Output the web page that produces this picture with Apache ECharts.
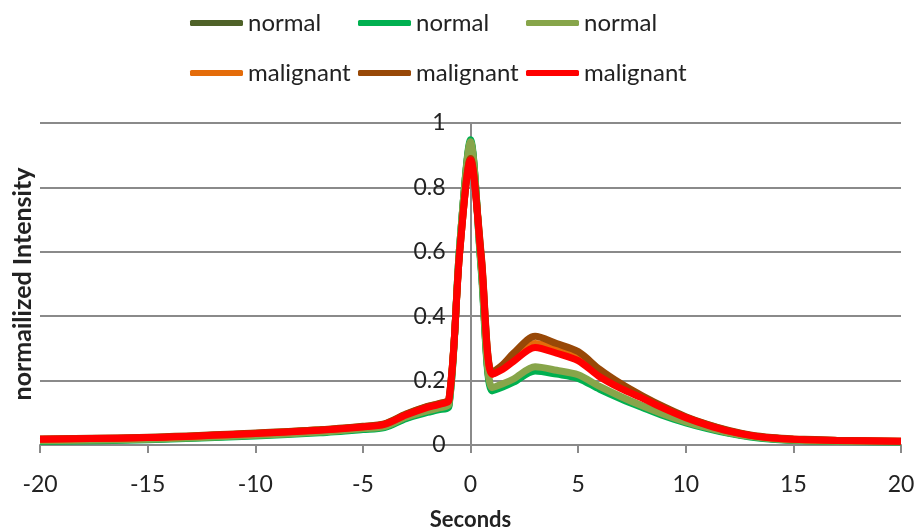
<!DOCTYPE html>
<html>
<head>
<meta charset="utf-8">
<script src="https://cdn.jsdelivr.net/npm/echarts@6/dist/echarts.min.js"></script>
<style>
  html, body { margin: 0; padding: 0; background: #fff; }
  #main { width: 917px; height: 532px; }
</style>
</head>
<body>
<div id="main"></div>
<script>
// time axis (seconds)
var seconds = [-20, -15, -10, -7, -5, -4, -3, -2, -1.5, -1, -0.5, 0, 0.5, 1, 1.5, 2, 3, 4, 5, 6, 7, 8, 9, 10, 11, 12, 13, 14, 15, 17, 20];

var normal1 = [0.013, 0.018, 0.03, 0.04, 0.05, 0.056, 0.084, 0.104, 0.112, 0.125, 0.62, 0.94, 0.55, 0.175, 0.185, 0.2, 0.232, 0.223, 0.212, 0.178, 0.148, 0.12, 0.094, 0.072, 0.054, 0.038, 0.027, 0.019, 0.015, 0.012, 0.01];
var normal2 = [0.011, 0.016, 0.028, 0.038, 0.048, 0.054, 0.082, 0.101, 0.109, 0.12, 0.62, 0.948, 0.54, 0.168, 0.18, 0.195, 0.23, 0.22, 0.207, 0.173, 0.143, 0.116, 0.09, 0.069, 0.051, 0.036, 0.025, 0.018, 0.014, 0.011, 0.009];
var normal3 = [0.013, 0.018, 0.03, 0.04, 0.051, 0.057, 0.086, 0.106, 0.114, 0.128, 0.62, 0.942, 0.55, 0.178, 0.19, 0.205, 0.243, 0.232, 0.218, 0.182, 0.15, 0.121, 0.095, 0.072, 0.054, 0.038, 0.027, 0.019, 0.015, 0.012, 0.01];
var malignant1 = [0.018, 0.023, 0.036, 0.047, 0.057, 0.065, 0.095, 0.119, 0.127, 0.142, 0.6, 0.89, 0.585, 0.22, 0.24, 0.27, 0.315, 0.298, 0.274, 0.222, 0.18, 0.148, 0.115, 0.086, 0.063, 0.044, 0.03, 0.022, 0.018, 0.014, 0.012];
var malignant2 = [0.019, 0.024, 0.037, 0.047, 0.058, 0.066, 0.096, 0.12, 0.128, 0.143, 0.6, 0.89, 0.59, 0.225, 0.25, 0.285, 0.338, 0.315, 0.29, 0.235, 0.19, 0.152, 0.118, 0.088, 0.064, 0.045, 0.031, 0.023, 0.019, 0.015, 0.012];
var malignant3 = [0.018, 0.023, 0.036, 0.046, 0.056, 0.064, 0.093, 0.117, 0.125, 0.14, 0.6, 0.885, 0.58, 0.22, 0.235, 0.26, 0.303, 0.285, 0.262, 0.212, 0.175, 0.145, 0.113, 0.085, 0.062, 0.043, 0.03, 0.022, 0.018, 0.014, 0.012];

var seriesKeys = ["normal 1", "normal 2", "normal 3", "malignant 1", "malignant 2", "malignant 3"];
var seriesLabels = ["normal", "normal", "normal", "malignant", "malignant", "malignant"];
var seriesValues = [normal1, normal2, normal3, malignant1, malignant2, malignant3];
var seriesColors = ["#4F6228", "#00B050", "#87A54A", "#E46C0A", "#984807", "#FF0000"];

var font = "Lato, 'Open Sans', sans-serif";

var myChart = echarts.init(document.getElementById("main"));

function legendLabel(name) {
  return seriesLabels[seriesKeys.indexOf(name)];
}

var legendBase = {
  left: 190,
  orient: "horizontal",
  padding: 0,
  itemGap: 0,
  itemWidth: 53,
  itemHeight: 6,
  icon: "roundRect",
  formatter: legendLabel,
  textStyle: { fontFamily: font, fontSize: 24, color: "#222", width: 110, lineHeight: 28 },
  selectedMode: false
};

var series = seriesKeys.map(function (key, i) {
  return {
    name: key,
    type: "line",
    smooth: 0.3,
    showSymbol: false,
    data: seconds.map(function (t, j) { return [t, seriesValues[i][j]]; }),
    lineStyle: { color: seriesColors[i], width: 7 },
    itemStyle: { color: seriesColors[i] }
  };
});

// plot area; the value axis is drawn at x = 0 (middle of the grid)
var gridLeft = 40, gridRight = 16, chartWidth = 917;
var zeroOffset = -(chartWidth - gridLeft - gridRight) / 2;

var option = {
  animation: false,
  legend: [
    Object.assign({}, legendBase, { top: 9, data: seriesKeys.slice(0, 3) }),
    Object.assign({}, legendBase, { top: 59, data: seriesKeys.slice(3) })
  ],
  grid: { left: gridLeft, right: gridRight, top: 123, bottom: 87, outerBoundsMode: "none", containLabel: false },
  xAxis: {
    type: "value",
    min: -20,
    max: 20,
    interval: 5,
    name: "Seconds",
    nameLocation: "middle",
    nameGap: 63,
    nameTextStyle: { fontFamily: font, fontSize: 22, fontWeight: "bold", color: "#222", lineHeight: 24 },
    axisLine: { lineStyle: { color: "#8a8a8a", width: 2 } },
    axisTick: { show: true, length: 8, lineStyle: { color: "#8a8a8a", width: 2 } },
    axisLabel: { fontFamily: font, fontSize: 23, color: "#222", margin: 28 },
    splitLine: { show: false }
  },
  yAxis: [
    {
      type: "value",
      position: "left",
      offset: zeroOffset,
      min: 0,
      max: 1,
      interval: 0.2,
      axisLine: { show: true, onZero: false, lineStyle: { color: "#8a8a8a", width: 2 } },
      axisTick: { show: false },
      axisLabel: { fontFamily: font, fontSize: 23, color: "#222", margin: 25 },
      splitLine: { lineStyle: { color: "#8a8a8a", width: 2 } }
    },
    {
      type: "value",
      position: "left",
      min: 0,
      max: 1,
      name: "normailized Intensity",
      nameLocation: "middle",
      nameGap: 5,
      nameTextStyle: { fontFamily: font, fontSize: 25, fontWeight: "bold", color: "#222" },
      axisLine: { show: false, onZero: false },
      axisTick: { show: false },
      axisLabel: { show: false },
      splitLine: { show: false }
    }
  ],
  series: series
};

myChart.setOption(option);
</script>
</body>
</html>
